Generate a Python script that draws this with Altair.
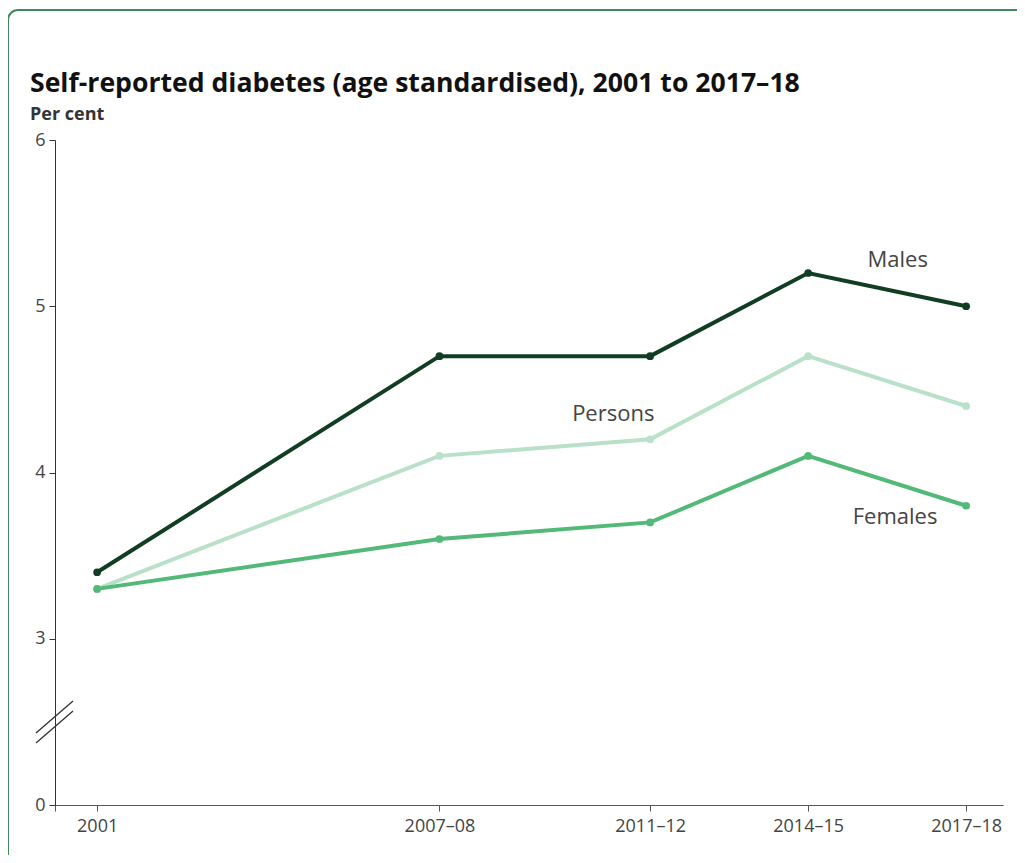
import altair as alt
import pandas as pd

# ---- data ----
periods = ["2001", "2007–08", "2011–12", "2014–15", "2017–18"]
period_pos = [2001, 2007.5, 2011.5, 2014.5, 2017.5]
males = [3.4, 4.7, 4.7, 5.2, 5.0]
persons = [3.3, 4.1, 4.2, 4.7, 4.4]
females = [3.3, 3.6, 3.7, 4.1, 3.8]
series_names = ["Males", "Persons", "Females"]
series_colors = ["#113d22", "#b9e0c8", "#52b978"]

label_text = ["Males", "Persons", "Females"]
label_x = [2016.2, 2010.8, 2016.15]
label_y = [5.28, 4.35, 3.73]

rows = []
for name, vals in zip(series_names, [males, persons, females]):
    for p, pos, v in zip(periods, period_pos, vals):
        rows.append({"series": name, "period": p, "pos": pos, "value": v})
df = pd.DataFrame(rows)
lab_df = pd.DataFrame({"text": label_text, "pos": label_x, "value": label_y})

W, H = 948, 665
x_dom = [2000.2, 2018.2]
y_dom = [2, 6]

expr = "''"
for p, pos in zip(reversed(periods), reversed(period_pos)):
    expr = f"datum.value == {pos} ? '{p}' : ({expr})"

x_axis = alt.Axis(values=[x_dom[0]] + period_pos, labelExpr=expr, title=None,
                  grid=False, tickSize=6, labelPadding=6, labelFontSize=18,
                  labelColor="#444", domainColor="#555", tickColor="#555",
                  labelFont="Open Sans", labelFlush=False, labelOverlap=False)
y_axis = alt.Axis(values=[2, 3, 4, 5, 6],
                  labelExpr="datum.value == 2 ? '0' : format(datum.value, 'd')",
                  title=None, grid=False, tickSize=6, labelPadding=4,
                  labelFontSize=18, labelColor="#444", domainColor="#333",
                  tickColor="#333", labelFont="Open Sans")
x_scale = alt.Scale(domain=x_dom, nice=False, zero=False)
y_scale = alt.Scale(domain=y_dom, nice=False, zero=False)


def xe():
    return alt.X("pos:Q", scale=x_scale, axis=x_axis)


def ye():
    return alt.Y("value:Q", scale=y_scale, axis=y_axis)


color_enc = alt.Color("series:N", scale=alt.Scale(domain=series_names, range=series_colors),
                      legend=None)

base = alt.Chart(df)
lines = base.mark_line(strokeWidth=4).encode(x=xe(), y=ye(), color=color_enc,
                                               detail="series:N")
points = base.mark_circle(size=60, opacity=1).encode(x=xe(), y=ye(), color=color_enc)

labels = alt.Chart(lab_df).mark_text(fontSize=22, color="#444", font="Open Sans",
                                     baseline="middle", align="center").encode(
    x=xe(), y=ye(), text="text:N")

brk = pd.DataFrame({"k": [0]})
break1 = alt.Chart(brk).mark_rule(color="#333", strokeWidth=1.3).encode(
    x=alt.value(-19), x2=alt.value(18), y=alt.value(593), y2=alt.value(561))
break2 = alt.Chart(brk).mark_rule(color="#333", strokeWidth=1.3).encode(
    x=alt.value(-19), x2=alt.value(18), y=alt.value(603), y2=alt.value(571))

border = alt.Chart(brk).mark_rect(fillOpacity=0, stroke="#3f8a5c", strokeWidth=2,
                                  cornerRadius=10).encode(
    x=alt.value(-47), x2=alt.value(1000), y=alt.value(-130), y2=alt.value(900))

chart = alt.layer(border, lines, points, labels, break1, break2).properties(
    width=W, height=H,
    autosize=alt.AutoSizeParams(type="none"),
    padding={"left": 47, "top": 132, "right": 14, "bottom": 50},
    background="white",
    title=alt.TitleParams(
        text="Self-reported diabetes (age standardised), 2001 to 2017–18",
        subtitle="Per cent",
        anchor="start", frame="group", dx=-25, offset=-115,
        font="Open Sans", fontSize=26.6, fontWeight="bold", color="#111",
        subtitleFont="Open Sans", subtitleFontSize=18, subtitleFontWeight="bold",
        subtitleColor="#333", subtitlePadding=8,
    ),
).configure_view(stroke="transparent", strokeWidth=0)

chart.save("out.html", embed_options={"renderer": "svg", "actions": False})
